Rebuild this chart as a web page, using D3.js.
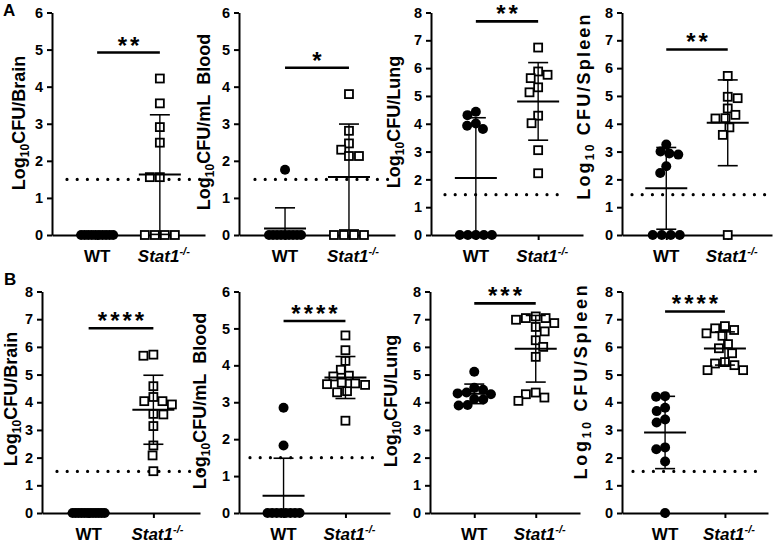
<!DOCTYPE html>
<html>
<head>
<meta charset="utf-8">
<script src="https://cdn.jsdelivr.net/npm/d3@7"></script>
<style>
  body { margin: 0; background: #fff; }
  svg text { font-family: "Liberation Sans", Arial, sans-serif; font-weight: bold; fill: #000; }
</style>
</head>
<body>
<div id="chart"></div>
<script>
// groups on the x axis
const groups = ["WT", "Stat1"];

// log10 CFU per animal
const aBrainWT    = [0, 0, 0, 0, 0, 0, 0, 0, 0, 0];
const aBrainKO    = [4.22, 3.55, 2.91, 2.49, 1.56, 1.56, 0, 0, 0, 0];
const aBloodWT    = [1.76, 0, 0, 0, 0, 0, 0, 0, 0, 0];
const aBloodKO    = [3.80, 2.81, 2.47, 2.30, 2.13, 2.13, 0, 0, 0, 0];
const aLungWT     = [4.43, 4.31, 4.01, 3.93, 3.81, 0, 0, 0, 0, 0];
const aLungKO     = [6.74, 5.88, 5.76, 5.64, 5.31, 5.13, 4.29, 4.02, 3.05, 2.22];
const aSpleenWT   = [3.25, 3.00, 2.93, 2.89, 2.47, 2.23, 0, 0, 0, 0];
const aSpleenKO   = [5.72, 4.97, 4.92, 4.55, 4.32, 4.20, 4.19, 3.87, 3.60, 0];
const bBrainWT    = [0, 0, 0, 0, 0, 0, 0, 0, 0, 0, 0, 0];
const bBrainKO    = [5.72, 5.68, 4.58, 4.19, 4.04, 4.04, 3.92, 3.58, 3.56, 3.14, 2.44, 2.08, 1.51];
const bBloodWT    = [2.85, 1.83, 0, 0, 0, 0, 0, 0, 0, 0];
const bBloodKO    = [4.81, 4.41, 4.12, 3.88, 3.72, 3.70, 3.53, 3.51, 3.49, 3.47, 3.30, 3.27, 2.50];
const bLungWT     = [5.10, 4.52, 4.45, 4.35, 4.32, 4.29, 4.12, 4.10, 3.90, 3.88];
const bLungKO     = [7.10, 7.04, 7.04, 6.98, 6.86, 6.72, 6.56, 6.24, 6.00, 5.64, 4.35, 4.29, 4.17, 4.05];
const bSpleenWT   = [4.22, 4.20, 3.80, 3.68, 3.38, 3.27, 2.37, 2.30, 1.86, 0];
const bSpleenKO   = [6.75, 6.67, 6.61, 6.49, 6.40, 6.10, 5.95, 5.77, 5.45, 5.40, 5.34, 5.16, 5.16];

const wtSets = [aBrainWT, aBloodWT, aLungWT, aSpleenWT, bBrainWT, bBloodWT, bLungWT, bSpleenWT];
const koSets = [aBrainKO, aBloodKO, aLungKO, aSpleenKO, bBrainKO, bBloodKO, bLungKO, bSpleenKO];

// axis titles (after the "Log10" part), y maxima, detection limits, significance
const titles   = ["CFU/Brain", "CFU/mL\u00a0\u00a0Blood", "CFU/Lung", "\u00a0CFU/Spleen",
                  "CFU/Brain", "CFU/mL\u00a0\u00a0Blood", "CFU/Lung", "\u00a0CFU/Spleen"];
const yMax     = [6, 6, 8, 8, 8, 6, 8, 8];
const lodLevel = [1.5, 1.5, 1.45, 1.45, 1.5, 1.5, null, 1.5];
const sigLevel = [4.92, 4.51, 7.68, 6.67, 6.67, 5.2, 7.57, 7.28];
const sigStars = ["**", "*", "**", "**", "****", "****", "***", "****"];

// layout of the eight panels
const rows = { A: { base: 235, top: 12.5 }, B: { base: 513, top: 291.5 } };
const layout = [
  { row: "A", left: 52,  right: 205, tx: 25,  ty: 123, ls: 0,   lod: [67, 201] },
  { row: "A", left: 239, right: 395, tx: 210, ty: 122, ls: 0,   lod: [255, 390] },
  { row: "A", left: 431, right: 583, tx: 400, ty: 122, ls: 0,   lod: [445, 566] },
  { row: "A", left: 622, right: 772, tx: 590, ty: 106, ls: 2.2, lod: [632, 767] },
  { row: "B", left: 42,  right: 200, tx: 17,  ty: 399, ls: 0,   lod: [57, 200] },
  { row: "B", left: 239, right: 390, tx: 206, ty: 401, ls: 0,   lod: [250, 377] },
  { row: "B", left: 430, right: 580, tx: 397, ty: 401, ls: 0,   lod: null },
  { row: "B", left: 622, right: 768, tx: 587, ty: 381, ls: 2.8, lod: [633, 763] }
];

const svg = d3.select("#chart").append("svg")
  .attr("width", 775)
  .attr("height", 543);

svg.append("text").attr("x", 3).attr("y", 16).style("font-size", "17px").text("A");
svg.append("text").attr("x", 4).attr("y", 285).style("font-size", "17px").text("B");

// spread points sideways so they don't sit on top of each other (Prism-like scatter)
function spread(vals, y, D) {
  const pts = vals.map(v => ({ v: v, y: y(v), x: null }));
  const placed = [];
  const counts = d3.rollup(vals, g => g.length, v => v);
  counts.forEach((n, v) => {
    if (n < 3) return;
    const step = Math.min(D, 32 / (n - 1));
    pts.filter(p => p.v === v).forEach((p, i) => {
      p.x = (i - (n - 1) / 2) * step;
      placed.push(p);
    });
  });
  let flip = 1;
  pts.filter(p => p.x === null).sort((a, b) => b.v - a.v).forEach(p => {
    const cands = [0];
    placed.forEach(q => {
      const dy = Math.abs(q.y - p.y);
      if (dy < D) {
        const dx = Math.sqrt(D * D - dy * dy);
        cands.push(q.x + dx, q.x - dx);
      }
    });
    const ok = cands.filter(x => placed.every(q => Math.hypot(q.x - x, q.y - p.y) >= D - 0.01));
    ok.sort((a, b) => Math.abs(a) - Math.abs(b) || flip * (b - a));
    p.x = ok[0];
    flip = -flip;
    placed.push(p);
  });
  return pts;
}

layout.forEach(function(L, i) {
  const r = rows[L.row];
  const y = d3.scaleLinear().domain([0, yMax[i]]).range([r.base, r.top]);
  const x = d3.scalePoint().domain(groups).range([L.left, L.right]).padding(0.72);
  const g = svg.append("g");

  // y axis
  const yAxis = g.append("g")
    .attr("transform", "translate(" + L.left + ",0)")
    .call(d3.axisLeft(y).ticks(yMax[i]).tickFormat(d3.format("d")).tickSize(5).tickSizeOuter(0).tickPadding(4));
  yAxis.selectAll("path, line").attr("stroke", "#000").attr("stroke-width", 2);
  yAxis.selectAll("text").style("font-size", "14.5px").style("font-family", "'Liberation Sans', Arial, sans-serif")
    .style("font-weight", "bold").attr("fill", "#000");

  // x axis
  const xAxis = g.append("g")
    .attr("transform", "translate(0," + r.base + ")")
    .call(d3.axisBottom(x).tickSize(5).tickSizeOuter(0).tickFormat(""));
  xAxis.selectAll("path, line").attr("stroke", "#000").attr("stroke-width", 2);

  const labY = r.base + 27;
  g.append("text").attr("x", x("WT")).attr("y", labY).attr("text-anchor", "middle")
    .style("font-size", "17px").text("WT");
  const ko = g.append("text").attr("x", x("Stat1") + 4).attr("y", labY).attr("text-anchor", "middle")
    .style("font-size", "17px").style("font-style", "italic");
  ko.append("tspan").text("Stat1");
  ko.append("tspan").attr("dy", -7).style("font-size", "11px").text("-/-");

  // axis title
  const t = g.append("text")
    .attr("transform", "translate(" + L.tx + "," + L.ty + ") rotate(-90)")
    .attr("text-anchor", "middle")
    .style("font-size", "18px")
    .style("letter-spacing", L.ls + "px");
  t.append("tspan").text("Log");
  t.append("tspan").attr("dy", 4).style("font-size", "12px").text("10");
  t.append("tspan").attr("dy", -4).text(titles[i]);

  // detection limit
  if (L.lod) {
    g.append("line")
      .attr("x1", L.lod[0]).attr("x2", L.lod[1])
      .attr("y1", y(lodLevel[i])).attr("y2", y(lodLevel[i]))
      .attr("stroke", "#000").attr("stroke-width", 3.2)
      .attr("stroke-linecap", "round").attr("stroke-dasharray", "0,10.2");
  }

  // points
  const sets = [wtSets[i], koSets[i]];
  sets.forEach(function(vals, k) {
    const cx = x(groups[k]);
    const pts = spread(vals, y, k === 0 ? 9 : 10);
    if (k === 0) {
      g.selectAll(null).data(pts).enter().append("circle")
        .attr("cx", d => cx + d.x).attr("cy", d => d.y).attr("r", 5).attr("fill", "#000");
    } else {
      g.selectAll(null).data(pts).enter().append("rect")
        .attr("x", d => cx + d.x - 4).attr("y", d => d.y - 4)
        .attr("width", 8).attr("height", 8)
        .attr("fill", "#fff").attr("stroke", "#000").attr("stroke-width", 1.8);
    }
  });

  // mean +/- SD
  sets.forEach(function(vals, k) {
    const cx = x(groups[k]);
    const m = d3.mean(vals), sd = d3.deviation(vals) || 0;
    const lo = Math.max(0, m - sd), hi = m + sd;
    g.append("line").attr("x1", cx).attr("x2", cx).attr("y1", y(lo)).attr("y2", y(hi))
      .attr("stroke", "#000").attr("stroke-width", 1.4);
    g.append("line").attr("x1", cx - 10).attr("x2", cx + 10).attr("y1", y(hi)).attr("y2", y(hi))
      .attr("stroke", "#000").attr("stroke-width", 1.6);
    if (m - sd > 0) {
      g.append("line").attr("x1", cx - 10).attr("x2", cx + 10).attr("y1", y(lo)).attr("y2", y(lo))
        .attr("stroke", "#000").attr("stroke-width", 1.6);
    }
    g.append("line").attr("x1", cx - 21).attr("x2", cx + 21).attr("y1", y(m)).attr("y2", y(m))
      .attr("stroke", "#000").attr("stroke-width", 2);
  });

  // significance bar
  const sy = y(sigLevel[i]);
  g.append("line").attr("x1", x("WT")).attr("x2", x("Stat1")).attr("y1", sy).attr("y2", sy)
    .attr("stroke", "#000").attr("stroke-width", 2.6);
  g.append("text").attr("x", (x("WT") + x("Stat1")) / 2 + 1.5).attr("y", sy + 1)
    .attr("text-anchor", "middle").style("font-size", "24px").style("letter-spacing", "3px")
    .text(sigStars[i]);
});
</script>
</body>
</html>
